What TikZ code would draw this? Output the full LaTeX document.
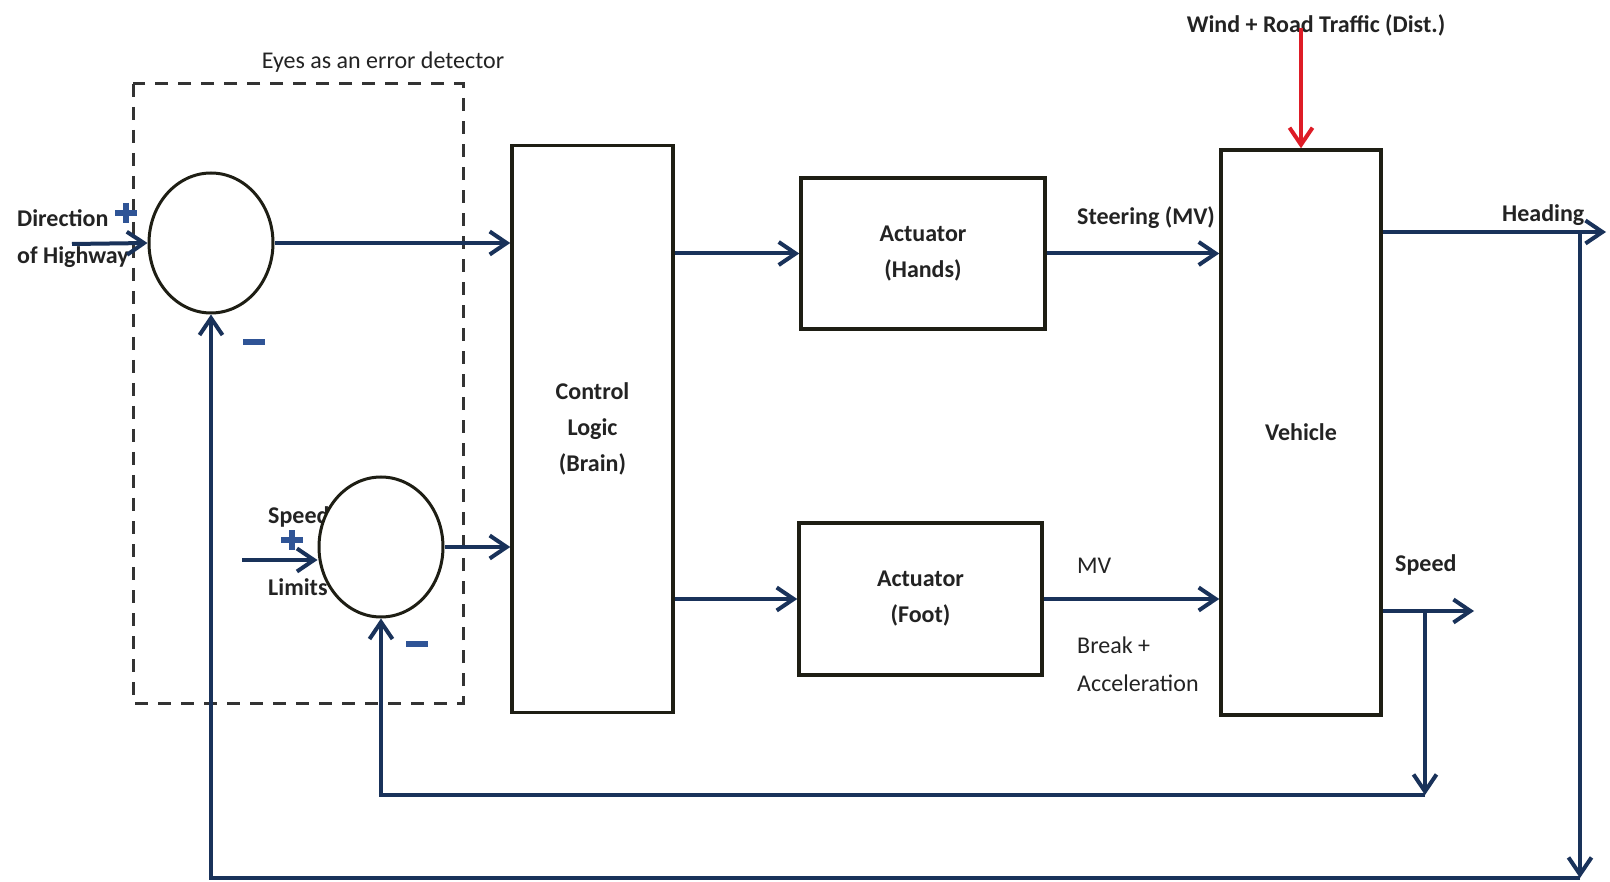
\documentclass[tikz,border=0pt]{standalone}
\usepackage{fontspec}
\setmainfont{Carlito}
\usetikzlibrary{shapes.geometric,arrows.meta,calc}
\definecolor{navy}{RGB}{25,50,90}
\definecolor{sgnblue}{RGB}{47,84,150}
\definecolor{distred}{RGB}{222,28,38}
\definecolor{boxline}{RGB}{30,30,20}
\definecolor{txt}{RGB}{35,35,35}
\begin{document}
\begin{tikzpicture}[x=1pt,y=-1pt,
  font=\fontsize{24}{36}\selectfont,
  arr/.style={draw=navy, line width=4pt, -{Straight Barb[length=17pt,width=23pt]}},
  redarr/.style={draw=distred, line width=4pt, -{Straight Barb[length=17pt,width=23pt]}},
  blk/.style={draw=boxline, line width=3.5pt, fill=white, align=center, inner sep=0pt, text=txt},
  sumj/.style={ellipse, draw=boxline, line width=3pt, fill=white, minimum width=124pt, minimum height=140pt, inner sep=0pt},
  lbl/.style={anchor=west, inner sep=0pt, text=txt},
  sign/.style={draw=sgnblue, line width=6pt},
  eyes/.style={draw=black!80, line width=3pt, dash pattern=on 13pt off 10pt}
]
\fill[white] (0,0) rectangle (1610,882);
\useasboundingbox (0,0) rectangle (1610,882);

% dashed error-detector box
\draw[eyes] (133,84) rectangle (463,703);
\node[lbl, anchor=center] (eyeslbl) at (383,62) {Eyes as an error detector};

% input labels (behind the summing junctions)
\node[lbl] (dirA) at (17,218) {\bfseries Direction};
\node[lbl] (dirB) at (17,257) {\bfseries of Highway};
\node[lbl] (spA) at (268,517) {\bfseries Speed};
\node[lbl] (spB) at (268,587) {\bfseries Limits};

% summing junctions
\node[sumj] (s1) at (211,243) {};
\node[sumj] (s2) at (381,547) {};

% blocks
\node[blk, minimum width=161pt, minimum height=567pt] (ctrl) at (592.5,429) {\bfseries Control\\\bfseries Logic\\\bfseries (Brain)};
\node[blk, minimum width=244pt, minimum height=151pt] (hands) at (923,253.5) {\bfseries Actuator\\\bfseries (Hands)};
\node[blk, minimum width=243pt, minimum height=152pt] (foot) at (920.5,599) {\bfseries Actuator\\\bfseries (Foot)};
\node[blk, minimum width=160pt, minimum height=565pt] (veh) at (1301,432.5) {\bfseries Vehicle};

% signal labels
\node[lbl] (steer) at (1077,218) {\bfseries Steering (MV)};
\node[lbl] (mv) at (1077,566) {MV};
\node[lbl] (brk) at (1077,645) {Break +};
\node[lbl] (acc) at (1077,683) {Acceleration};
\node[lbl] (head) at (1502,215) {\bfseries Heading};
\node[lbl] (spd) at (1395,565) {\bfseries Speed};
\node[lbl, anchor=center] (wind) at (1316,25) {\bfseries Wind + Road Traffic (Dist.)};

% coordinates for free ends
\coordinate (din) at (72,244);
\coordinate (slin) at (242,560);
\coordinate (hout) at (1606,232);
\coordinate (hj) at (1580,232);
\coordinate (hbot) at (1580,878);
\coordinate (sout) at (1474,611);
\coordinate (sj) at (1425,611);
\coordinate (sbot) at (1425,795);
\coordinate (dist) at (1301,28);

% forward path
\draw[arr] (din) -- (s1.west);
\draw[arr] (slin) -- (s2.west |- slin);
\draw[arr] (s1.east) -- (s1.east -| ctrl.west);
\draw[arr] (s2.east) -- (s2.east -| ctrl.west);
\draw[arr] (ctrl.east |- hands.west) -- (hands.west);
\draw[arr] (ctrl.east |- foot.west) -- (foot.west);
\draw[arr] (hands.east) -- (hands.east -| veh.west);
\draw[arr] (foot.east) -- (foot.east -| veh.west);
\draw[arr] (veh.east |- hout) -- (hout);
\draw[arr] (veh.east |- sout) -- (sout);

% feedback paths
\draw[arr] (hj) -- (hbot);
\draw[arr] (hbot) -| (s1.south);
\draw[arr] (sj) -- (sbot);
\draw[arr] (sbot) -| (s2.south);

% disturbance
\draw[redarr] (dist) -- (veh.north);

% signs
\draw[sign] (115,213) -- (137,213) (126,203) -- (126,223);
\draw[sign] (281,540) -- (303,540) (292,530) -- (292,550);
\fill[sgnblue] (243,339) rectangle (265,345);
\fill[sgnblue] (406,641) rectangle (428,647);
\end{tikzpicture}
\end{document}
